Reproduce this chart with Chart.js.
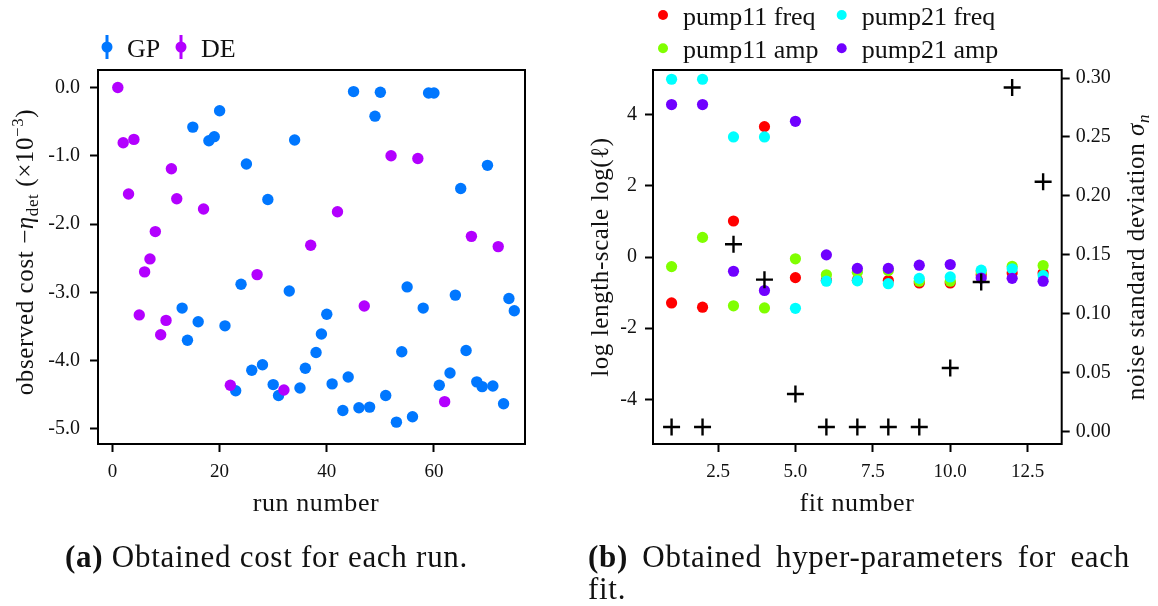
<!DOCTYPE html>
<html>
<head>
<meta charset="utf-8">
<script src="https://cdn.jsdelivr.net/npm/chart.js@4.4.1/dist/chart.umd.min.js"></script>
<style>
body { margin: 0; background: #fff; width: 1158px; height: 606px; overflow: hidden; position: relative; font-family: "Liberation Serif", serif; color: #111; }
#wrapA { position: absolute; left: 0; top: 0; width: 560px; height: 606px; }
#wrapB { position: absolute; left: 560px; top: 0; width: 598px; height: 606px; }
.cap { position: absolute; font-size: 31px; line-height: 32px; letter-spacing: 0.7px; text-align: justify; text-align-last: justify; }
</style>
</head>
<body>
<div id="wrapA"><canvas id="costChart" width="560" height="606"></canvas></div>
<div id="wrapB"><canvas id="hyperChart" width="598" height="606"></canvas></div>
<div class="cap" style="left:65px; top:541px; width:403px;"><b>(a)</b> Obtained cost for each run.</div>
<div class="cap" style="left:588px; top:541px; width:542px;"><b>(b)</b> Obtained hyper-parameters for each</div>
<div class="cap" style="left:588px; top:573px; text-align:left; text-align-last:left;">fit.</div>
<script>
// --- panel (a): cost per run ---
const gpRuns = [13, 14, 15, 16, 18, 19, 20, 21, 23, 24, 25, 26, 28, 29, 30, 31, 33, 34, 35, 36, 38, 39, 40, 41, 43, 44, 45, 46, 48, 49, 50, 51, 53, 54, 55, 56, 58, 59, 60, 61, 63, 64, 65, 66, 68, 69, 70, 71, 73, 74, 75];
const gpCost = [-3.23, -3.70, -0.58, -3.43, -0.78, -0.72, -0.34, -3.49, -4.44, -2.88, -1.12, -4.14, -4.06, -1.64, -4.35, -4.51, -2.98, -0.77, -4.40, -4.11, -3.88, -3.61, -3.32, -4.34, -4.73, -4.24, -0.06, -4.69, -4.68, -0.42, -0.07, -4.51, -4.90, -3.87, -2.92, -4.82, -3.23, -0.08, -0.08, -4.36, -4.18, -3.04, -1.48, -3.85, -4.31, -4.38, -1.14, -4.37, -4.63, -3.09, -3.27];
const deRuns = [1, 2, 3, 4, 5, 6, 7, 8, 9, 10, 11, 12, 17, 22, 27, 32, 37, 42, 47, 52, 57, 62, 67, 72];
const deCost = [0.00, -0.81, -1.56, -0.76, -3.33, -2.70, -2.51, -2.11, -3.62, -3.41, -1.19, -1.63, -1.78, -4.36, -2.74, -4.43, -2.31, -1.82, -3.20, -1.00, -1.04, -4.60, -2.18, -2.33];
const runTicks = [0, 20, 40, 60];
const costTicks = [0, -1, -2, -3, -4, -5];

// --- panel (b): hyper-parameters per fit ---
const fitNumbers = [1, 2, 3, 4, 5, 6, 7, 8, 9, 10, 11, 12, 13];
const pump11Freq = [-1.29, -1.41, 1.01, 3.66, -0.58, -0.65, -0.65, -0.66, -0.73, -0.73, -0.50, -0.45, -0.45];
const pump11Amp  = [-0.27, 0.55, -1.37, -1.43, -0.05, -0.50, -0.43, -0.38, -0.68, -0.68, -0.42, -0.26, -0.24];
const pump21Freq = [4.99, 4.99, 3.37, 3.37, -1.44, -0.68, -0.67, -0.75, -0.60, -0.56, -0.37, -0.33, -0.52];
const pump21Amp  = [4.28, 4.28, -0.40, -0.94, 3.81, 0.06, -0.32, -0.32, -0.23, -0.21, -0.59, -0.60, -0.68];
const noiseStd   = [0.004, 0.004, 0.159, 0.129, 0.032, 0.004, 0.004, 0.004, 0.004, 0.054, 0.127, 0.292, 0.212];
const fitTicks = [2.5, 5.0, 7.5, 10.0, 12.5];
const lengthTicks = [-4, -2, 0, 2, 4];
const noiseTicks = [0, 0.05, 0.10, 0.15, 0.20, 0.25, 0.30];

const SERIF = '"Liberation Serif", serif';
const INK = '#111';

function pts(xs, ys) {
    return xs.map((x, i) => ({ x: x, y: ys[i] }));
}

// text with sub/superscripts, centred on (x, y) along its own direction
function drawRich(ctx, segs, x, y, rot) {
    ctx.save();
    ctx.translate(x, y);
    ctx.rotate(rot);
    ctx.fillStyle = INK;
    ctx.textBaseline = 'alphabetic';
    ctx.letterSpacing = '0.6px';
    let total = 0;
    const widths = segs.map(s => {
        ctx.font = (s[3] || '') + ' ' + s[1] + 'px ' + SERIF;
        const w = ctx.measureText(s[0]).width;
        total += w;
        return w;
    });
    let cx = -total / 2;
    segs.forEach((s, i) => {
        ctx.font = (s[3] || '') + ' ' + s[1] + 'px ' + SERIF;
        ctx.fillText(s[0], cx, s[2]);
        cx += widths[i];
    });
    ctx.restore();
}

function boxPlugin(id) {
    return {
        id: id,
        afterDatasetsDraw(chart) {
            const a = chart.chartArea;
            const ctx = chart.ctx;
            ctx.save();
            ctx.strokeStyle = '#000';
            ctx.lineWidth = 2;
            ctx.strokeRect(a.left, a.top, a.right - a.left, a.bottom - a.top);
            ctx.restore();
        }
    };
}

function fixedWidth(w) { return s => { s.width = w; }; }
function fixedHeight(h) { return s => { s.height = h; }; }

const tickFont = { family: SERIF, size: 19 };
const gridStyle = { drawOnChartArea: false, drawTicks: true, tickLength: 8, tickWidth: 2, tickColor: '#000' };

// ---------- chart (a) ----------
const costLegend = {
    id: 'costLegend',
    afterDraw(chart) {
        const ctx = chart.ctx;
        const items = [['GP', '#0077ff', 107], ['DE', '#b300ff', 181]];
        ctx.save();
        items.forEach(it => {
            ctx.strokeStyle = it[1];
            ctx.fillStyle = it[1];
            ctx.lineWidth = 3;
            ctx.beginPath();
            ctx.moveTo(it[2], 35);
            ctx.lineTo(it[2], 59);
            ctx.stroke();
            ctx.beginPath();
            ctx.arc(it[2], 47, 5.5, 0, Math.PI * 2);
            ctx.fill();
            ctx.fillStyle = INK;
            ctx.font = '26px ' + SERIF;
            ctx.textBaseline = 'alphabetic';
            ctx.fillText(it[0], it[2] + 20, 57);
        });
        ctx.restore();
        drawRich(ctx, [['run number', 26, 0]], 316, 511, 0);
        drawRich(ctx, [
            ['observed cost ', 25, 0], ['\u2212', 25, 0], ['\u03b7', 25, 0, 'italic'],
            ['det', 17, 5], [' (\u00d710', 25, 0], ['\u22123', 17, -10], [')', 25, 0]
        ], 33, 252, -Math.PI / 2);
    }
};

new Chart(document.getElementById('costChart'), {
    type: 'scatter',
    data: {
        datasets: [
            { label: 'GP', data: pts(gpRuns, gpCost), backgroundColor: '#0077ff', borderWidth: 0, pointRadius: 5.7, order: 2 },
            { label: 'DE', data: pts(deRuns, deCost), backgroundColor: '#b300ff', borderWidth: 0, pointRadius: 5.7, order: 1 }
        ]
    },
    options: {
        responsive: false,
        animation: false,
        layout: { padding: { left: 0, top: 70, right: 35, bottom: 122 } },
        plugins: { legend: { display: false }, tooltip: { enabled: false } },
        scales: {
            x: {
                type: 'linear', min: -2.7, max: 77,
                afterBuildTicks: s => { s.ticks = runTicks.map(v => ({ value: v })); },
                afterFit: fixedHeight(40),
                border: { display: false },
                grid: gridStyle,
                ticks: { font: tickFont, color: INK, padding: 9, maxRotation: 0, callback: v => String(v) }
            },
            y: {
                type: 'linear', min: -5.22, max: 0.256,
                afterBuildTicks: s => { s.ticks = costTicks.map(v => ({ value: v })); },
                afterFit: fixedWidth(98),
                border: { display: false },
                grid: gridStyle,
                ticks: { font: { family: SERIF, size: 20 }, color: INK, padding: 10, callback: v => v.toFixed(1) }
            }
        }
    },
    plugins: [boxPlugin('boxA'), costLegend]
});

// ---------- chart (b) ----------
const hyperLegend = {
    id: 'hyperLegend',
    afterDraw(chart) {
        const ctx = chart.ctx;
        const items = [
            ['pump11 freq', '#ff0000', 103, 15, 25],
            ['pump11 amp', '#80ff00', 103, 48.3, 58],
            ['pump21 freq', '#00ffff', 281.7, 15, 25],
            ['pump21 amp', '#7000ff', 281.7, 48.3, 58]
        ];
        ctx.save();
        items.forEach(it => {
            ctx.fillStyle = it[1];
            ctx.beginPath();
            ctx.arc(it[2], it[3], 5, 0, Math.PI * 2);
            ctx.fill();
            ctx.fillStyle = INK;
            ctx.font = '26px ' + SERIF;
            ctx.textBaseline = 'alphabetic';
            ctx.fillText(it[0], it[2] + 20, it[4]);
        });
        ctx.restore();
        drawRich(ctx, [['fit number', 26, 0]], 297, 511, 0);
        drawRich(ctx, [['log length-scale log(', 25, 0], ['\u2113', 25, 0], [')', 25, 0]], 48, 257, -Math.PI / 2);
        drawRich(ctx, [['noise standard deviation ', 25, 0], ['\u03c3', 25, 0, 'italic'], ['n', 17, 5, 'italic']], 584, 257, -Math.PI / 2);
    }
};

const dot = (label, ys, color, order) => ({
    label: label, data: pts(fitNumbers, ys), yAxisID: 'y',
    backgroundColor: color, borderWidth: 0, pointRadius: 5.6, order: order
});

new Chart(document.getElementById('hyperChart'), {
    type: 'scatter',
    data: {
        datasets: [
            dot('pump11 freq', pump11Freq, '#ff0000', 5),
            dot('pump11 amp', pump11Amp, '#80ff00', 4),
            dot('pump21 freq', pump21Freq, '#00ffff', 3),
            dot('pump21 amp', pump21Amp, '#7000ff', 2),
            {
                label: 'noise', data: pts(fitNumbers, noiseStd), yAxisID: 'y2',
                pointStyle: 'cross', pointRadius: 8.5, borderColor: '#000', borderWidth: 2.4,
                backgroundColor: '#000', order: 1
            }
        ]
    },
    options: {
        responsive: false,
        animation: false,
        layout: { padding: { left: 0, top: 70, right: 0, bottom: 122 } },
        plugins: { legend: { display: false }, tooltip: { enabled: false } },
        scales: {
            x: {
                type: 'linear', min: 0.4, max: 13.6,
                afterBuildTicks: s => { s.ticks = fitTicks.map(v => ({ value: v })); },
                afterFit: fixedHeight(40),
                border: { display: false },
                grid: gridStyle,
                ticks: { font: tickFont, color: INK, padding: 9, maxRotation: 0, callback: v => v.toFixed(1) }
            },
            y: {
                type: 'linear', position: 'left', min: -5.25, max: 5.25,
                afterBuildTicks: s => { s.ticks = lengthTicks.map(v => ({ value: v })); },
                afterFit: fixedWidth(93),
                border: { display: false },
                grid: gridStyle,
                ticks: { font: { family: SERIF, size: 20 }, color: INK, padding: 8, callback: v => String(v) }
            },
            y2: {
                type: 'linear', position: 'right', min: -0.0104, max: 0.3068,
                afterBuildTicks: s => { s.ticks = noiseTicks.map(v => ({ value: v })); },
                afterFit: fixedWidth(96.3),
                border: { display: false },
                grid: gridStyle,
                ticks: { font: { family: SERIF, size: 20 }, color: INK, padding: 6, callback: v => v.toFixed(2) }
            }
        }
    },
    plugins: [boxPlugin('boxB'), hyperLegend]
});
</script>
</body>
</html>
